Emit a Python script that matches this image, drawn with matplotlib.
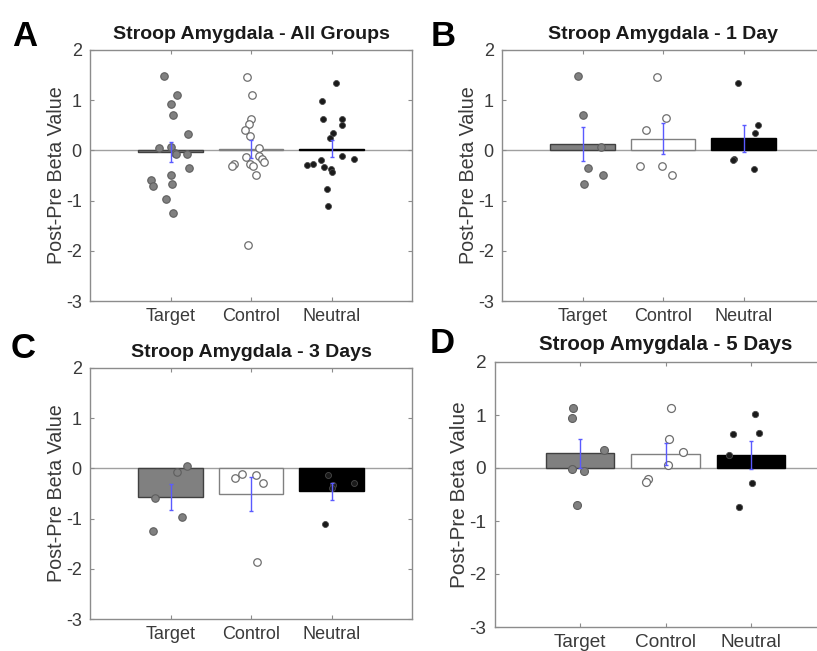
import matplotlib
matplotlib.use('Agg')
import matplotlib.pyplot as plt

plt.rcParams['font.family'] = ['Liberation Sans', 'DejaVu Sans']

categories = ['Target', 'Control', 'Neutral']
yticks = [-3, -2, -1, 0, 1, 2]

# ---- Panel A: all groups ----
a_target_y = [1.49, 1.10, 0.93, 0.71, 0.33, 0.05, 0.07, -0.05, -0.08, -0.07, -0.36, -0.49, -0.59, -0.70, -0.66, -0.97, -1.24]
a_target_x = [0.925, 1.075, 1.0, 1.03, 1.22, 0.86, 1.0, 1.05, 1.07, 1.2, 1.23, 1.0, 0.76, 0.785, 1.02, 0.945, 1.025]
a_control_y = [1.47, 1.10, 0.63, 0.52, 0.41, 0.29, 0.05, -0.13, -0.12, -0.18, -0.23, -0.28, -0.31, -0.28, -0.31, -0.49, -1.88]
a_control_x = [1.955, 2.01, 2.0, 1.97, 1.92, 1.99, 2.1, 1.935, 2.1, 2.14, 2.16, 1.785, 1.765, 1.985, 2.025, 2.065, 1.96]
a_neutral_y = [1.34, 0.98, 0.63, 0.62, 0.50, 0.34, 0.24, -0.12, -0.17, -0.20, -0.30, -0.28, -0.34, -0.38, -0.44, -0.76, -1.11]
a_neutral_x = [3.06, 2.885, 2.9, 3.13, 3.13, 3.015, 2.98, 3.13, 3.285, 2.865, 2.7, 2.77, 2.91, 2.99, 3.0, 2.94, 2.96]
a_means = [-0.03, 0.02, 0.03]
a_sem = [0.20, 0.18, 0.17]

# ---- Panel B: 1 day ----
b_target_y = [1.49, 0.71, 0.07, -0.36, -0.49, -0.66]
b_target_x = [0.94, 1.0, 1.23, 1.07, 1.255, 1.02]
b_control_y = [1.47, 0.64, 0.41, -0.31, -0.31, -0.49]
b_control_x = [1.93, 2.04, 1.79, 1.71, 1.99, 2.11]
b_neutral_y = [1.34, 0.51, 0.34, -0.18, -0.20, -0.38]
b_neutral_x = [2.93, 3.18, 3.14, 2.885, 2.865, 3.13]
b_means = [0.12, 0.23, 0.24]
b_sem = [0.34, 0.31, 0.27]

# ---- Panel C: 3 days ----
c_target_y = [0.04, -0.07, -0.59, -0.96, -1.24]
c_target_x = [1.21, 1.08, 0.805, 1.145, 0.78]
c_control_y = [-0.20, -0.11, -0.13, -0.29, -1.87]
c_control_x = [1.80, 1.885, 2.06, 2.145, 2.08]
c_neutral_y = [-0.13, -0.33, -0.29, -0.40, -1.11]
c_neutral_x = [2.96, 3.015, 3.28, 3.0, 2.92]
c_means = [-0.57, -0.51, -0.46]
c_sem = [0.25, 0.345, 0.17]

# ---- Panel D: 5 days ----
d_target_y = [1.13, 0.95, 0.34, -0.01, -0.05, -0.69]
d_target_x = [0.92, 0.90, 1.28, 0.90, 1.04, 0.96]
d_control_y = [1.14, 0.54, 0.31, 0.06, -0.20, -0.27]
d_control_x = [2.07, 2.04, 2.2, 2.03, 1.8, 1.77]
d_neutral_y = [1.01, 0.64, 0.66, 0.25, -0.29, -0.74]
d_neutral_x = [3.05, 2.79, 3.1, 2.75, 3.02, 2.86]
d_means = [0.275, 0.26, 0.25]
d_sem = [0.27, 0.205, 0.265]

titles = ['Stroop Amygdala - All Groups', 'Stroop Amygdala - 1 Day',
          'Stroop Amygdala - 3 Days', 'Stroop Amygdala - 5 Days']
letters = ['A', 'B', 'C', 'D']

W, H = 817, 651
fig = plt.figure(figsize=(W / 100, H / 100), dpi=100)


def rect(left, top, width, height):
    return [left / W, 1 - (top + height) / H, width / W, height / H]


positions = [rect(90, 50, 322, 251), rect(502, 50, 322, 251),
             rect(90, 368, 322, 251), rect(495, 362, 341, 265)]
scales = [1.0, 1.0, 1.0, 1.055]

bar_face = ['#808080', '#ffffff', '#000000']
bar_edge = ['#404040', '#808080', '#000000']

panels = [
    (a_target_x, a_target_y, a_control_x, a_control_y, a_neutral_x, a_neutral_y, a_means, a_sem),
    (b_target_x, b_target_y, b_control_x, b_control_y, b_neutral_x, b_neutral_y, b_means, b_sem),
    (c_target_x, c_target_y, c_control_x, c_control_y, c_neutral_x, c_neutral_y, c_means, c_sem),
    (d_target_x, d_target_y, d_control_x, d_control_y, d_neutral_x, d_neutral_y, d_means, d_sem),
]

axis_col = '#8c8c8c'

for i, (pos, s, data) in enumerate(zip(positions, scales, panels)):
    tx, ty, cx, cy, nx, ny, means, sem = data
    ax = fig.add_axes(pos)
    xs = [1, 2, 3]
    ax.axhline(0, color='#a0a0a0', lw=1.0, zorder=1)
    ax.bar(xs, means, width=0.8, color=bar_face, edgecolor=bar_edge, linewidth=1.0, zorder=2)
    ax.errorbar(xs, means, yerr=sem, fmt='none', ecolor='#5a5aff', elinewidth=1.0,
                capsize=1.5 * s, capthick=1.0, zorder=4)
    ms = 5.4 * s
    ax.plot(tx, ty, 'o', ms=ms, mfc='#808080', mec='#5e5e5e', mew=0.8, ls='none', zorder=3)
    ax.plot(cx, cy, 'o', ms=ms, mfc='#ffffff', mec='#6e6e6e', mew=0.9, ls='none', zorder=3)
    ax.plot(nx, ny, 'o', ms=4.3 * s, mfc='#1a1a1a', mec='#4a4a4a', mew=0.6, ls='none', zorder=3)

    ax.set_xlim(0, 4)
    ax.set_ylim(-3, 2)
    ax.set_xticks(xs)
    ax.set_xticklabels(categories)
    ax.set_yticks(yticks)
    ax.set_yticklabels([str(v) for v in yticks])
    ax.tick_params(direction='in', length=3, width=0.8, color=axis_col,
                   top=True, right=True, labelsize=13 * s, labelcolor='#3a3a3a')
    ax.tick_params(axis='y', pad=6 * s)
    ax.tick_params(axis='x', pad=5 * s)
    for sp in ax.spines.values():
        sp.set_color(axis_col)
        sp.set_linewidth(1.0)
    ax.set_ylabel('Post-Pre Beta Value', fontsize=14.2 * s, color='#3a3a3a')
    ax.yaxis.set_label_coords(-0.075, 0.5)
    ax.set_title(titles[i], fontsize=14 * s, fontweight='bold', color='#1a1a1a', pad=8 * s)

letter_pos = [(12, 46), (431, 46), (11, 358), (430, 353)]
for L, (lx, ly) in zip(letters, letter_pos):
    fig.text(lx / W, 1 - ly / H, L, fontsize=25, fontweight='bold', color='black',
             ha='left', va='baseline')

fig.savefig('out.png', dpi=100)
